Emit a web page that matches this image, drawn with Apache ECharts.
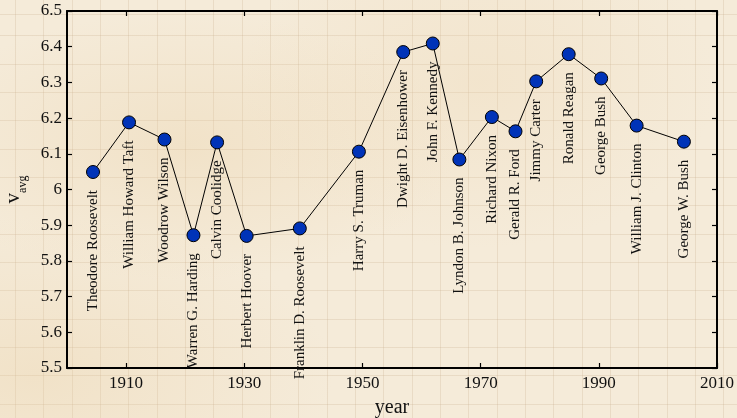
<!DOCTYPE html>
<html>
<head>
<meta charset="utf-8">
<script src="https://cdn.jsdelivr.net/npm/echarts@6/dist/echarts.min.js"></script>
<style>
html,body{margin:0;padding:0;}
body{
  width:737px;height:418px;overflow:hidden;
  background-color:#f5ebd9;
  background-image:
    radial-gradient(ellipse at 25% 35%, rgba(232,205,160,0.30), rgba(232,205,160,0) 35%),
    radial-gradient(ellipse at 65% 20%, rgba(235,210,170,0.25), rgba(235,210,170,0) 35%),
    radial-gradient(ellipse at 5% 90%, rgba(232,205,160,0.30), rgba(232,205,160,0) 30%),
    repeating-linear-gradient(90deg, rgba(195,170,135,0.25) 0px, rgba(195,170,135,0.25) 1px, transparent 1px, transparent 28.33px),
    repeating-linear-gradient(0deg, rgba(195,170,135,0.25) 0px, rgba(195,170,135,0.25) 1px, transparent 1px, transparent 28.33px);
  background-position:0 0,0 0,0 0,15px 0,0 15px;
}
#chart{width:737px;height:418px;}
</style>
</head>
<body>
<div id="chart"></div>
<script>
var presidents = ["Theodore Roosevelt","William Howard Taft","Woodrow Wilson","Warren G. Harding","Calvin Coolidge","Herbert Hoover","Franklin D. Roosevelt","Harry S. Truman","Dwight D. Eisenhower","John F. Kennedy","Lyndon B. Johnson","Richard Nixon","Gerald R. Ford","Jimmy Carter","Ronald Reagan","George Bush","William J. Clinton","George W. Bush"];
var years = [1904.4,1910.5,1916.5,1921.4,1925.4,1930.4,1939.4,1949.4,1956.9,1961.9,1966.4,1971.9,1975.9,1979.4,1984.9,1990.4,1996.4,2004.4];
var vavg = [6.049,6.188,6.140,5.872,6.132,5.870,5.891,6.106,6.385,6.409,6.084,6.203,6.163,6.303,6.379,6.311,6.179,6.134];
var xTicks = [1910,1930,1950,1970,1990,2010];
var yMin = 5.5, yMax = 6.5, yStep = 0.1;
var xMin = 1900, xMax = 2010;

var font = "'Liberation Serif', 'DejaVu Serif', serif";
var ink = '#111';

var data = presidents.map(function(n,i){ return {name:n, value:[years[i], vavg[i]]}; });

var chart = echarts.init(document.getElementById('chart'), null, {renderer:'canvas'});
var axisLine = {show:true, onZero:false, lineStyle:{color:'#000', width:2}};
var tick = {show:true, inside:true, length:5, lineStyle:{color:'#000', width:1.2}};
chart.setOption({
  animation:false,
  backgroundColor:'transparent',
  grid:{left:67, right:20, top:11, bottom:50, containLabel:false, outerBoundsMode:'none'},
  xAxis:[{
    type:'value', min:xMin, max:xMax, position:'bottom',
    axisLine:axisLine,
    axisTick:Object.assign({customValues:xTicks}, tick),
    axisLabel:{customValues:xTicks, fontSize:17, fontFamily:font, color:ink, margin:7,
      formatter:function(v){ return String(Math.round(v)); }},
    splitLine:{show:false},
    name:'year', nameLocation:'middle', nameGap:30,
    nameTextStyle:{fontSize:20, fontFamily:font, color:ink}
  },{
    type:'value', min:xMin, max:xMax, position:'top',
    axisLine:axisLine,
    axisTick:Object.assign({customValues:xTicks}, tick),
    axisLabel:{show:false},
    splitLine:{show:false}
  }],
  yAxis:[{
    type:'value', min:yMin, max:yMax, interval:yStep, position:'left',
    axisLine:axisLine, axisTick:tick,
    axisLabel:{fontSize:17, fontFamily:font, color:ink, margin:5,
      formatter:function(v){ return String(+(+v).toFixed(1)); }},
    splitLine:{show:false},
    name:'{v|v}{s|avg}', nameLocation:'middle', nameRotate:90, nameGap:38,
    nameTextStyle:{
      fontFamily:font, color:ink,
      rich:{
        v:{fontSize:21, fontFamily:font, color:ink, lineHeight:26, verticalAlign:'top'},
        s:{fontSize:12, fontFamily:font, color:ink, lineHeight:26, verticalAlign:'bottom'}
      }
    }
  },{
    type:'value', min:yMin, max:yMax, interval:yStep, position:'right',
    axisLine:axisLine, axisTick:tick,
    axisLabel:{show:false}, splitLine:{show:false}
  }],
  series:[{
    type:'line', xAxisIndex:0, yAxisIndex:0,
    data:data,
    symbol:'circle', symbolSize:13,
    itemStyle:{color:'#0033b8', borderColor:'#000', borderWidth:1},
    lineStyle:{color:'#000', width:1},
    label:{
      show:true, formatter:'{b}', position:'bottom', distance:11,
      rotate:90, align:'right', verticalAlign:'middle',
      fontSize:15, fontFamily:font, color:ink
    },
    z:3
  }]
});
</script>
</body>
</html>
